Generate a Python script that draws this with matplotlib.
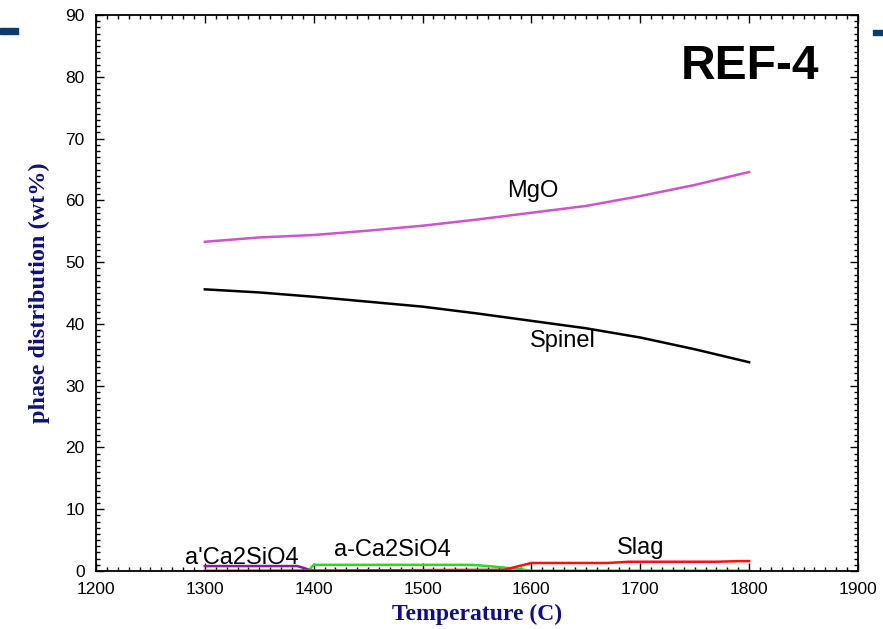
import matplotlib.pyplot as plt
from matplotlib.patches import Rectangle
from matplotlib.ticker import MultipleLocator

plt.rcParams['font.family'] = ['Liberation Sans', 'DejaVu Sans']

# Data
temp = [1300, 1350, 1400, 1450, 1500, 1550, 1600, 1650, 1700, 1750, 1800]
mgo = [53.3, 54.0, 54.4, 55.1, 55.9, 56.9, 58.0, 59.1, 60.7, 62.5, 64.6]
spinel = [45.6, 45.1, 44.4, 43.6, 42.8, 41.7, 40.5, 39.3, 37.8, 35.9, 33.8]

ac2s_t = [1300, 1385, 1400, 1800]
ac2s_prime = [0.8, 0.8, 0.0, 0.0]

a_c2s_t = [1300, 1395, 1400, 1545, 1560, 1590, 1600, 1800]
a_c2s = [0.0, 0.0, 1.0, 1.0, 0.8, 0.3, 0.0, 0.0]

slag_t = [1300, 1575, 1600, 1670, 1690, 1770, 1790, 1800]
slag = [0.0, 0.2, 1.3, 1.3, 1.5, 1.5, 1.6, 1.6]

other_t = [1300, 1800]
other = [0.0, 0.0]

fig = plt.figure(figsize=(8.83, 6.29), dpi=100)
ax = fig.add_axes([0.1087, 0.0922, 0.863, 0.8838])

lw = 1.8
ax.plot(other_t, other, color='#006400', lw=lw)
ax.plot(ac2s_t, ac2s_prime, color='#8B1A9B', lw=lw)
ax.plot(a_c2s_t, a_c2s, color='#22DD22', lw=lw)
ax.plot(slag_t, slag, color='#FF1010', lw=lw)
ax.plot(temp, mgo, color='#CC55CC', lw=lw)
ax.plot(temp, spinel, color='black', lw=lw)

ax.set_xlim(1200, 1900)
ax.set_ylim(0, 90)
ax.xaxis.set_major_locator(MultipleLocator(100))
ax.xaxis.set_minor_locator(MultipleLocator(10))
ax.yaxis.set_major_locator(MultipleLocator(10))
ax.yaxis.set_minor_locator(MultipleLocator(1))
ax.tick_params(which='both', direction='in', top=True, right=True, width=1)
ax.tick_params(which='major', length=6, labelsize=12.5, pad=8)
ax.tick_params(which='minor', length=3)
for s in ax.spines.values():
    s.set_linewidth(1.3)

lab_font = dict(family='Liberation Serif', weight='bold', color='#10107a')
ax.set_xlabel('Temperature (C)', labelpad=5, size=17, **lab_font)
ax.set_ylabel('phase distribution (wt%)', labelpad=11, size=17.5, **lab_font)

txt = dict(size=17, color='black')
ax.text(1601, 61.5, 'MgO', ha='center', va='center', **txt)
ax.text(1629, 37.2, 'Spinel', ha='center', va='center', **txt)
ax.text(1334, 2.1, "a'Ca2SiO4", ha='center', va='center', **txt)
ax.text(1472, 3.4, 'a-Ca2SiO4', ha='center', va='center', **txt)
ax.text(1700, 3.7, 'Slag', ha='center', va='center', **txt)
ax.text(1801, 81.7, 'REF-4', ha='center', va='center', weight='bold', size=34.5)

# decorative slide marks
fig.patches.append(Rectangle((0, 1 - 34 / 629), 18 / 883, 6 / 629,
                             transform=fig.transFigure, color='#0d3b70'))
fig.patches.append(Rectangle((873 / 883, 1 - 35 / 629), 10 / 883, 5 / 629,
                             transform=fig.transFigure, color='#0d3b70'))

fig.savefig('out.png', dpi=100)
